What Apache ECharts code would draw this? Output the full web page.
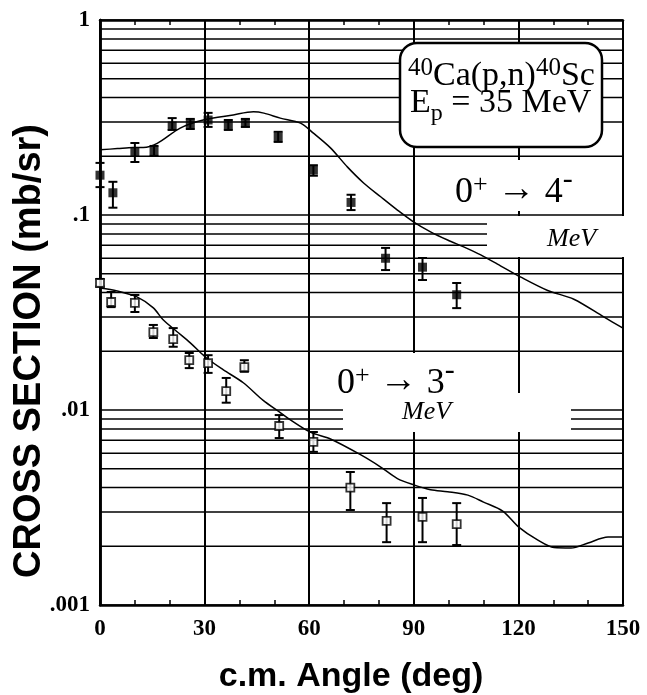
<!DOCTYPE html>
<html><head><meta charset="utf-8">
<script src="https://cdn.jsdelivr.net/npm/echarts@6/dist/echarts.min.js"></script>
<style>html,body{margin:0;padding:0;background:#fff}#c{width:647px;height:695px}</style>
</head><body><div id="c"></div>
<script>
// ---- data ----
const xTickLabels = ['0','30','60','90','120','150'];
const yTickLabels = ['.001','.01','.1','1'];

// 0+ -> 4- (filled squares)
const angles4 = [0, 3.7, 10, 15.5, 20.7, 25.9, 31, 36.8, 41.7, 51.1, 61.2, 72, 81.9, 92.5, 102.3];
const vals4   = [0.16, 0.13, 0.21, 0.213, 0.286, 0.293, 0.307, 0.289, 0.296, 0.251, 0.170, 0.116, 0.060, 0.054, 0.039];
const hi4     = [0.185, 0.148, 0.234, 0.226, 0.314, 0.311, 0.334, 0.307, 0.311, 0.267, 0.180, 0.127, 0.0678, 0.0602, 0.0448];
const lo4     = [0.139, 0.109, 0.187, 0.201, 0.273, 0.276, 0.283, 0.273, 0.283, 0.237, 0.159, 0.106, 0.0522, 0.0464, 0.0333];

// 0+ -> 3- (open squares)
const angles3 = [0, 3.2, 10, 15.3, 21, 25.6, 31, 36.2, 41.4, 51.4, 61.2, 71.8, 82.2, 92.5, 102.3];
const vals3   = [0.0448, 0.0358, 0.0354, 0.0251, 0.0231, 0.0180, 0.0174, 0.0125, 0.0166, 0.00828, 0.00686, 0.0040, 0.0027, 0.00283, 0.0026];
const hi3     = [0.047, 0.0403, 0.0389, 0.0273, 0.0263, 0.0196, 0.0191, 0.0146, 0.018, 0.00942, 0.00771, 0.00481, 0.00333, 0.00354, 0.00333];
const lo3     = [0.043, 0.0337, 0.0318, 0.0234, 0.0211, 0.0164, 0.0155, 0.0109, 0.0157, 0.00718, 0.0061, 0.00307, 0.0021, 0.0021, 0.00203];

// theory curves
const curve4x = [0, 5, 9.5, 12.4, 16.4, 23, 29.6, 38.2, 44, 47, 51.7, 57.5, 61.2, 66.1, 71, 75.6, 80.5, 85.3, 90, 94.8, 99.7, 104.3, 109.2, 114, 120.7, 128.4, 135.9, 144.5, 150];
const curve4y = [0.216, 0.219, 0.222, 0.222, 0.233, 0.279, 0.307, 0.326, 0.338, 0.333, 0.314, 0.296, 0.263, 0.221, 0.176, 0.146, 0.124, 0.106, 0.092, 0.082, 0.0744, 0.0686, 0.0624, 0.056, 0.048, 0.041, 0.037, 0.030, 0.0263];
const curve3x = [0, 4.9, 10.6, 15.3, 18.1, 22.1, 25.9, 30.2, 35.3, 41.1, 46.8, 51.7, 54.6, 60.3, 66.1, 74.7, 80.5, 85.3, 90, 94.8, 99.7, 105.5, 110, 115.5, 120.1, 125.6, 130.2, 135.1, 140, 145.7, 150];
const curve3y = [0.0422, 0.0408, 0.038, 0.0334, 0.029, 0.0252, 0.0221, 0.0187, 0.0161, 0.0138, 0.0112, 0.0097, 0.0089, 0.0077, 0.0071, 0.0059, 0.0051, 0.00445, 0.00413, 0.0039, 0.00381, 0.00366, 0.00337, 0.00303, 0.00251, 0.00215, 0.00197, 0.00196, 0.00208, 0.00223, 0.00223];

// log minor grid lines (2..9 within each decade)
const decades = [0.001, 0.01, 0.1];
const minorMult = [2, 3, 4, 5, 6, 7, 8, 9];

// ---- chart ----
const minorGrid = [];
decades.forEach(d => minorMult.forEach(m => minorGrid.push([0, +(d * m).toPrecision(3)])));

const zip = (a, b) => a.map((v, i) => [v, b[i]]);
const zip3 = (a, b, c) => a.map((v, i) => [v, b[i], c[i]]);

function errRender(params, api) {
  const x = api.value(0), lo = api.value(1), hi = api.value(2);
  const p1 = api.coord([x, lo]), p2 = api.coord([x, hi]);
  const w = 4.5;
  const st = { stroke: '#000', lineWidth: 2 };
  return { type: 'group', children: [
    { type: 'line', shape: { x1: p1[0], y1: p1[1], x2: p2[0], y2: p2[1] }, style: st },
    { type: 'line', shape: { x1: p1[0] - w, y1: p1[1], x2: p1[0] + w, y2: p1[1] }, style: st },
    { type: 'line', shape: { x1: p2[0] - w, y1: p2[1], x2: p2[0] + w, y2: p2[1] }, style: st }
  ]};
}
function gridRender(params, api) {
  const v = api.value(1);
  const p1 = api.coord([0, v]), p2 = api.coord([150, v]);
  return { type: 'line', shape: { x1: p1[0], y1: p1[1], x2: p2[0], y2: p2[1] }, style: { stroke: '#000', lineWidth: 1.5 } };
}

const serif = '"Liberation Serif","Times New Roman",serif';
const sans = '"Liberation Sans",Arial,sans-serif';

// lays out a run of text pieces (for super/subscripts) on a common baseline
const measureCtx = document.createElement('canvas').getContext('2d');
function runText(x0, baseline, parts, z) {
  let x = x0;
  const els = [];
  parts.forEach(p => {
    const font = (p.italic ? 'italic ' : '') + p.size + 'px ' + serif;
    measureCtx.font = font;
    const w = measureCtx.measureText(p.t).width;
    els.push({ type: 'text', z: z, silent: true, x: x, y: baseline + (p.dy || 0) - 0.3375 * p.size,
      style: { text: p.t, font: font, fill: '#000', verticalAlign: 'middle' } });
    x += w;
  });
  return els;
}

const xAxisBase = {
  type: 'value', min: 0, max: 150, interval: 30,
  axisLine: { show: true, onZero: false, lineStyle: { color: '#000', width: 2.5 } },
  axisTick: { show: true, inside: true, length: 5, lineStyle: { color: '#000', width: 1.5 } },
  minorTick: { show: true, splitNumber: 3, length: 5, lineStyle: { color: '#000', width: 1.5 } }
};

const transition = (state) => [
  { t: '0', size: 36 }, { t: '+', size: 26, dy: -11 }, { t: ' \u2192 ', size: 38, dy: -2 },
  { t: state, size: 36 }, { t: '-', size: 30, dy: -15 }
];

const graphics = [
  // white patches behind the labels (as in the scanned figure)
  { type: 'rect', z: 2, silent: true, shape: { x: 450, y: 160, width: 150, height: 51 }, style: { fill: '#fff' } },
  { type: 'rect', z: 2, silent: true, shape: { x: 487, y: 216, width: 139, height: 41 }, style: { fill: '#fff' } },
  { type: 'rect', z: 2, silent: true, shape: { x: 337, y: 353, width: 133, height: 40 }, style: { fill: '#fff' } },
  { type: 'rect', z: 7, silent: true, shape: { x: 343, y: 393, width: 228, height: 39 }, style: { fill: '#fff' } },
  { type: 'text', z: 8, x: 402, y: 412, style: { text: 'MeV', font: 'italic 26px ' + serif, fill: '#000', verticalAlign: 'middle' } },
  { type: 'text', z: 8, x: 547, y: 239, style: { text: 'MeV', font: 'italic 26px ' + serif, fill: '#000', verticalAlign: 'middle' } },
  // reaction box
  { type: 'rect', z: 8, shape: { x: 400, y: 43, width: 202, height: 104, r: 17 }, style: { fill: '#fff', stroke: '#000', lineWidth: 2.5 } },
  // axis titles
  { type: 'text', z: 9, x: 30, y: 351, rotation: Math.PI / 2, style: { text: 'CROSS SECTION (mb/sr)', font: 'bold 38px ' + sans, fill: '#000', align: 'center', verticalAlign: 'middle' } },
  { type: 'text', z: 9, x: 351, y: 677, style: { text: 'c.m. Angle (deg)', font: 'bold 34px ' + sans, fill: '#000', align: 'center', verticalAlign: 'middle' } }
]
.concat(runText(455, 205, transition('4'), 8))
.concat(runText(337, 396, transition('3'), 6))
.concat(runText(408, 88, [
  { t: '40', size: 25, dy: -11 }, { t: 'Ca(p,n)', size: 34 }, { t: '40', size: 25, dy: -11 }, { t: 'Sc', size: 34 }
], 9))
.concat(runText(410, 115, [
  { t: 'E', size: 34 }, { t: 'p', size: 24, dy: 7 }, { t: ' = 35 MeV', size: 34 }
], 9));

const chart = echarts.init(document.getElementById('c'), null, { renderer: 'canvas' });
chart.setOption({
  animation: false,
  backgroundColor: '#fff',
  grid: { left: 100, right: 24, top: 20, bottom: 90, containLabel: false, outerBoundsMode: 'none' },
  xAxis: [
    Object.assign({}, xAxisBase, {
      position: 'bottom',
      splitLine: { show: true, lineStyle: { color: '#000', width: 2 } },
      axisLabel: { show: true, margin: 13, color: '#000', fontFamily: serif, fontWeight: 'bold', fontSize: 23,
        formatter: v => xTickLabels[Math.round(v / 30)] }
    }),
    Object.assign({}, xAxisBase, {
      position: 'top',
      splitLine: { show: false },
      axisLabel: { show: false }
    })
  ],
  yAxis: [
    { type: 'log', logBase: 10, min: 0.001, max: 1, splitNumber: 3, position: 'left',
      axisLine: { show: true, lineStyle: { color: '#000', width: 2.5 } },
      axisTick: { show: false },
      splitLine: { show: true, lineStyle: { color: '#000', width: 1.5 } },
      axisLabel: { margin: 10, color: '#000', fontFamily: serif, fontWeight: 'bold', fontSize: 23,
        formatter: v => yTickLabels[Math.round(Math.log10(v)) + 3] } },
    { type: 'log', logBase: 10, min: 0.001, max: 1, position: 'right',
      axisLine: { show: true, lineStyle: { color: '#000', width: 2.5 } },
      axisTick: { show: false }, splitLine: { show: false }, axisLabel: { show: false } }
  ],
  series: [
    { type: 'custom', name: 'grid', z: 1, silent: true, renderItem: gridRender, data: minorGrid, encode: { x: 0, y: 1 } },
    { type: 'line', name: 'theory 4-', z: 3, data: zip(curve4x, curve4y), smooth: 0.3, symbol: 'none',
      lineStyle: { color: '#000', width: 1.5 } },
    { type: 'line', name: 'theory 3-', z: 3, data: zip(curve3x, curve3y), smooth: 0.3, symbol: 'none',
      lineStyle: { color: '#000', width: 1.5 } },
    { type: 'custom', name: 'err 4-', z: 4, renderItem: errRender, data: zip3(angles4, lo4, hi4), encode: { x: 0, y: [1, 2] } },
    { type: 'custom', name: 'err 3-', z: 4, renderItem: errRender, data: zip3(angles3, lo3, hi3), encode: { x: 0, y: [1, 2] } },
    { type: 'scatter', name: '4-', z: 5, data: zip(angles4, vals4), symbol: 'rect', symbolSize: 9, clip: false,
      itemStyle: { color: '#000' } },
    { type: 'scatter', name: '3-', z: 5, data: zip(angles3, vals3), symbol: 'rect', symbolSize: 8, clip: false,
      itemStyle: { color: '#fff', borderColor: '#000', borderWidth: 1.8 } }
  ],
  graphic: { elements: graphics }
});
</script>
</body></html>
